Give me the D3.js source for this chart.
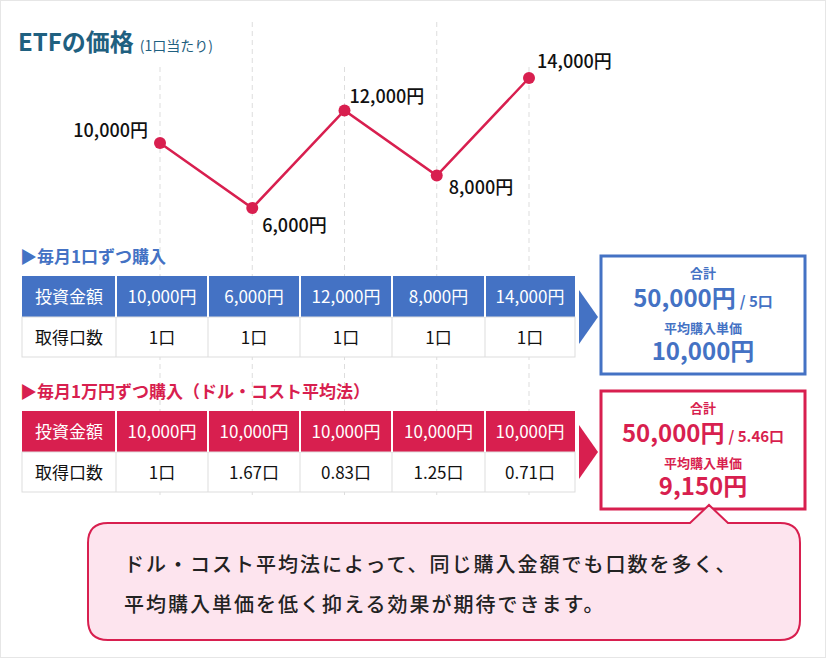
<!DOCTYPE html><html><head><meta charset="utf-8"><script src="https://cdn.jsdelivr.net/npm/d3@7"></script>
<style>body{margin:0;background:#fff}text{font-family:"Noto Sans CJK JP","Noto Sans",sans-serif}</style></head><body><svg id="c" width="826" height="658"></svg><script>
const months=[1,2,3,4,5];
const prices=[10000,6000,12000,8000,14000];
const units1=["1口","1口","1口","1口","1口"];
const invest2=[10000,10000,10000,10000,10000];
const units2=["1口","1.67口","0.83口","1.25口","0.71口"];
const BLUE="#4472c4",RED="#d81f4f";
const svg=d3.select("#c");
svg.append("rect").attr("x",0.5).attr("y",0.5).attr("width",825).attr("height",657).attr("fill","#fff").attr("stroke","#e6e6e6");
const x=d3.scalePoint().domain(months).range([160,529]);
const y=d3.scaleLinear().domain([6000,14000]).range([208,78]);
const fmt=d=>d3.format(",")(d)+"円";
months.forEach(m=>svg.append("line").attr("x1",x(m)).attr("x2",x(m)).attr("y1",m%2?67:22).attr("y2",495).attr("stroke","#ddd").attr("stroke-dasharray","5,4"));
svg.append("text").attr("x",18).attr("y",51).attr("fill","#1f6080").attr("font-size",24).attr("font-weight",700).text("ETFの価格")
 .append("tspan").attr("font-size",14).attr("font-weight",400).attr("dx",6).text("(1口当たり)");
svg.append("path").datum(prices).attr("fill","none").attr("stroke",RED).attr("stroke-width",2.5)
 .attr("d",d3.line().x((d,i)=>x(months[i])).y(d=>y(d)));
svg.selectAll(".pt").data(prices).join("circle").attr("cx",(d,i)=>x(months[i])).attr("cy",d=>y(d)).attr("r",6).attr("fill",RED);
const lo=[[-12,-6,"end"],[10,24,"start"],[5,-8,"start"],[12,18,"start"],[8,-10,"start"]];
prices.forEach((d,i)=>svg.append("text").attr("x",x(months[i])+lo[i][0]).attr("y",y(d)+lo[i][1]).attr("text-anchor",lo[i][2]).attr("font-size",18).attr("font-weight",500).attr("fill","#111").text(fmt(d)));
const colX=[22,116,208,300,392,485,575];
function table(top,color,title,row1,row2){
 svg.append("text").attr("x",20).attr("y",top-13).attr("fill",color).attr("font-size",17).attr("font-weight",700).text("▶"+title);
 const h=41;
 svg.append("rect").attr("x",22).attr("y",top).attr("width",553).attr("height",h).attr("fill",color);
 svg.append("rect").attr("x",22).attr("y",top+h).attr("width",553).attr("height",h-1).attr("fill","#fff").attr("stroke","#ddd");
 for(let i=1;i<6;i++){svg.append("line").attr("x1",colX[i]).attr("x2",colX[i]).attr("y1",top).attr("y2",top+h).attr("stroke","#fff").attr("stroke-width",2);
  svg.append("line").attr("x1",colX[i]).attr("x2",colX[i]).attr("y1",top+h).attr("y2",top+2*h-1).attr("stroke","#ddd");}
 ["投資金額"].concat(row1).forEach((t,i)=>svg.append("text").attr("x",(colX[i]+colX[i+1])/2).attr("y",top+27).attr("text-anchor","middle").attr("fill","#fff").attr("font-size",17).text(t));
 ["取得口数"].concat(row2).forEach((t,i)=>svg.append("text").attr("x",(colX[i]+colX[i+1])/2).attr("y",top+h+27).attr("text-anchor","middle").attr("fill","#111").attr("font-size",17).text(t));
 svg.append("path").attr("d",`M579,${top+14}L598,${top+41}L579,${top+68}Z`).attr("fill",color);
}
table(276,BLUE,"毎月1口ずつ購入",prices.map(fmt),units1);
table(411,RED,"毎月1万円ずつ購入（ドル・コスト平均法）",invest2.map(fmt),units2);
function box(top,color,total,units,avg){
 svg.append("rect").attr("x",601).attr("y",top).attr("width",204).attr("height",118).attr("fill","#fff").attr("stroke",color).attr("stroke-width",3);
 const g=svg.append("g").attr("fill",color).attr("font-weight",700).attr("text-anchor","middle");
 g.append("text").attr("x",703).attr("y",top+22).attr("font-size",13).text("合計");
 const t=g.append("text").attr("x",703).attr("y",top+51).attr("font-size",24).text(total);
 t.append("tspan").attr("font-size",15).attr("dx",4).text("/ "+units);
 g.append("text").attr("x",703).attr("y",top+77).attr("font-size",13).text("平均購入単価");
 g.append("text").attr("x",703).attr("y",top+104).attr("font-size",24).text(avg);
}
box(256,BLUE,"50,000円","5口","10,000円");
box(391,RED,"50,000円","5.46口","9,150円");
svg.append("path").attr("d","M108,523H690L709,505L728,523H780Q800,523 800,543V620Q800,640 780,640H108Q88,640 88,620V543Q88,523 108,523Z").attr("fill","#fde4ee").attr("stroke",RED).attr("stroke-width",2);
["ドル・コスト平均法によって、同じ購入金額でも口数を多く、","平均購入単価を低く抑える効果が期待できます。"].forEach((t,i)=>
 svg.append("text").attr("x",124).attr("y",572+i*40).attr("font-size",20).attr("font-weight",500).attr("letter-spacing",2).attr("fill","#222").text(t));
</script></body></html>
